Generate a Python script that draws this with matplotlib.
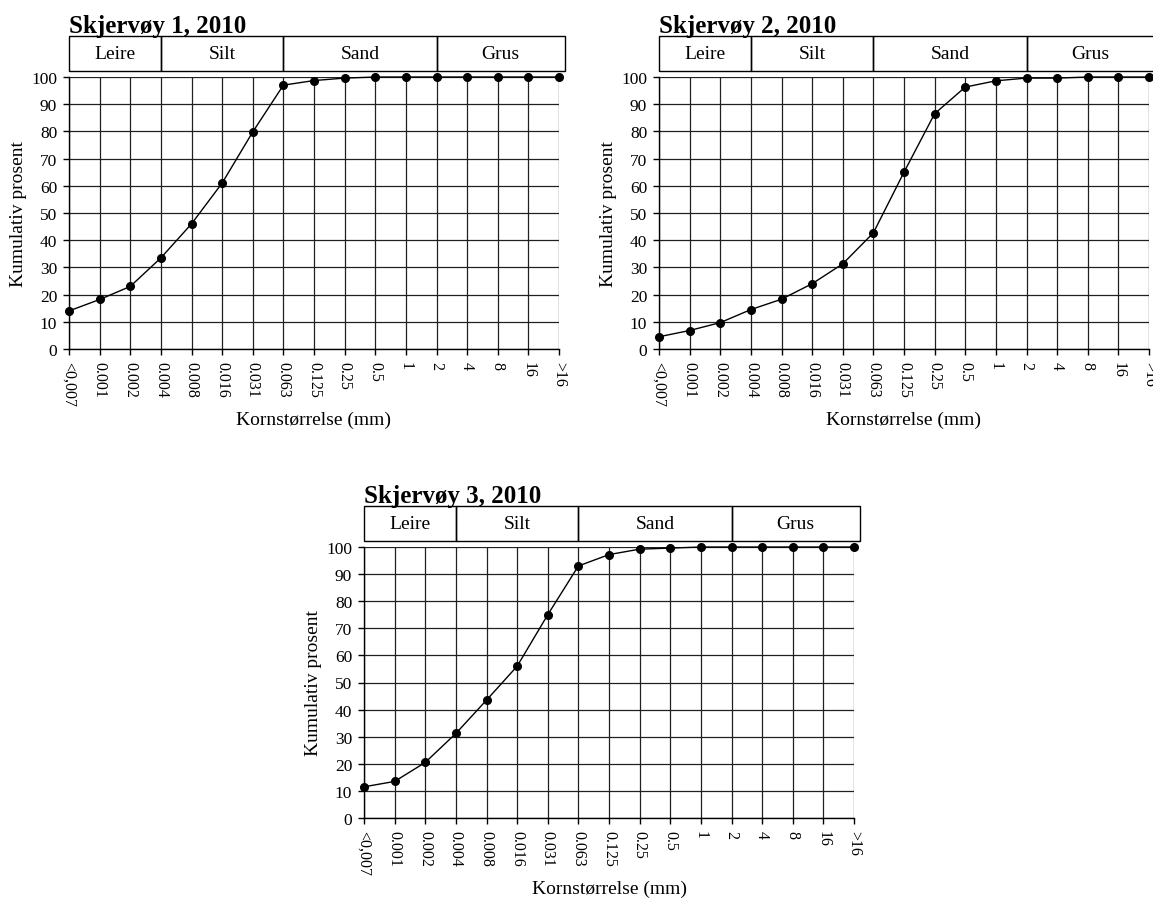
import matplotlib
matplotlib.use("Agg")
import matplotlib.pyplot as plt
from matplotlib.patches import Rectangle

plt.rcParams['font.family'] = ['Liberation Serif', 'DejaVu Serif']

categories = ['<0,007', '0.001', '0.002', '0.004', '0.008', '0.016', '0.031', '0.063',
              '0.125', '0.25', '0.5', '1', '2', '4', '8', '16', '>16']

titles = ['Skjervøy 1, 2010', 'Skjervøy 2, 2010', 'Skjervøy 3, 2010']

sample1 = [14, 18.2, 23, 33.5, 46, 61, 79.8, 97, 98.7, 99.6, 100, 100, 100, 100, 100, 100, 100]
sample2 = [4.5, 6.8, 9.7, 14.5, 18.3, 24, 31.3, 42.7, 65, 86.5, 96.3, 98.6, 99.6, 99.6, 100, 100, 100]
sample3 = [11.5, 13.5, 20.5, 31.2, 43.5, 56, 75, 93, 97.2, 99.2, 99.6, 100, 100, 100, 100, 100, 100]

classes = ['Leire', 'Silt', 'Sand', 'Grus']
class_bounds = [0, 3, 7, 12, 16]  # category index boundaries

yticks = list(range(0, 101, 10))

W, H = 1153, 903
fig = plt.figure(figsize=(W / 100, H / 100), dpi=100)

# axes boxes in pixels: left, right, top(100), bottom(0)
boxes = [(69, 559, 78, 350), (659, 1149, 78, 350), (364, 854, 548, 819)]
series = [sample1, sample2, sample3]

for (l, r, t, b), data, title in zip(boxes, series, titles):
    ax = fig.add_axes([l / W, 1 - b / H, (r - l) / W, (b - t) / H])
    x = list(range(len(categories)))
    ax.set_xlim(0, len(categories) - 1)
    ax.set_ylim(0, 100)
    ax.set_xticks(x)
    ax.set_xticklabels(categories, rotation=270, fontsize=11.5)
    ax.set_yticks(yticks)
    ax.set_yticklabels([str(v) for v in yticks], fontsize=12.5)
    ax.tick_params(axis='x', direction='out', length=4, width=1, pad=5)
    ax.tick_params(axis='y', direction='out', length=4.5, width=1, pad=4)
    ax.grid(True, color='#202020', linewidth=0.9)
    ax.set_axisbelow(True)
    for s in ['top', 'right']:
        ax.spines[s].set_visible(False)
    ax.spines['left'].set_linewidth(1.0)
    ax.spines['bottom'].set_linewidth(1.0)
    ax.plot(x, data, color='black', linewidth=1.0, marker='o', markersize=5.5,
            clip_on=False, zorder=5)
    ax.set_ylabel('Kumulativ prosent', fontsize=14)
    ax.yaxis.set_label_coords(-0.086, 0.5)
    ax.set_xlabel('Kornstørrelse (mm)', fontsize=14)
    ax.xaxis.set_label_coords(0.5, -62 / (b - t))

    # class band boxes above the plot
    n = len(categories) - 1
    ybot = 1 + 6 / (b - t)
    ytop = 1 + 41 / (b - t)
    extra = 6 / (r - l)
    for i, name in enumerate(classes):
        x0 = class_bounds[i] / n
        x1 = class_bounds[i + 1] / n
        if i == len(classes) - 1:
            x1 += extra
        ax.add_patch(Rectangle((x0, ybot), x1 - x0, ytop - ybot, transform=ax.transAxes,
                               fill=False, edgecolor='black', linewidth=1.0, clip_on=False))
        ax.text((x0 + x1) / 2, (ybot + ytop) / 2, name, transform=ax.transAxes,
                ha='center', va='center', fontsize=14)
    ax.text(0, 1 + 45 / (b - t), title, transform=ax.transAxes, ha='left', va='baseline',
            fontsize=18, fontweight='bold')

fig.savefig('out.png', dpi=100)
